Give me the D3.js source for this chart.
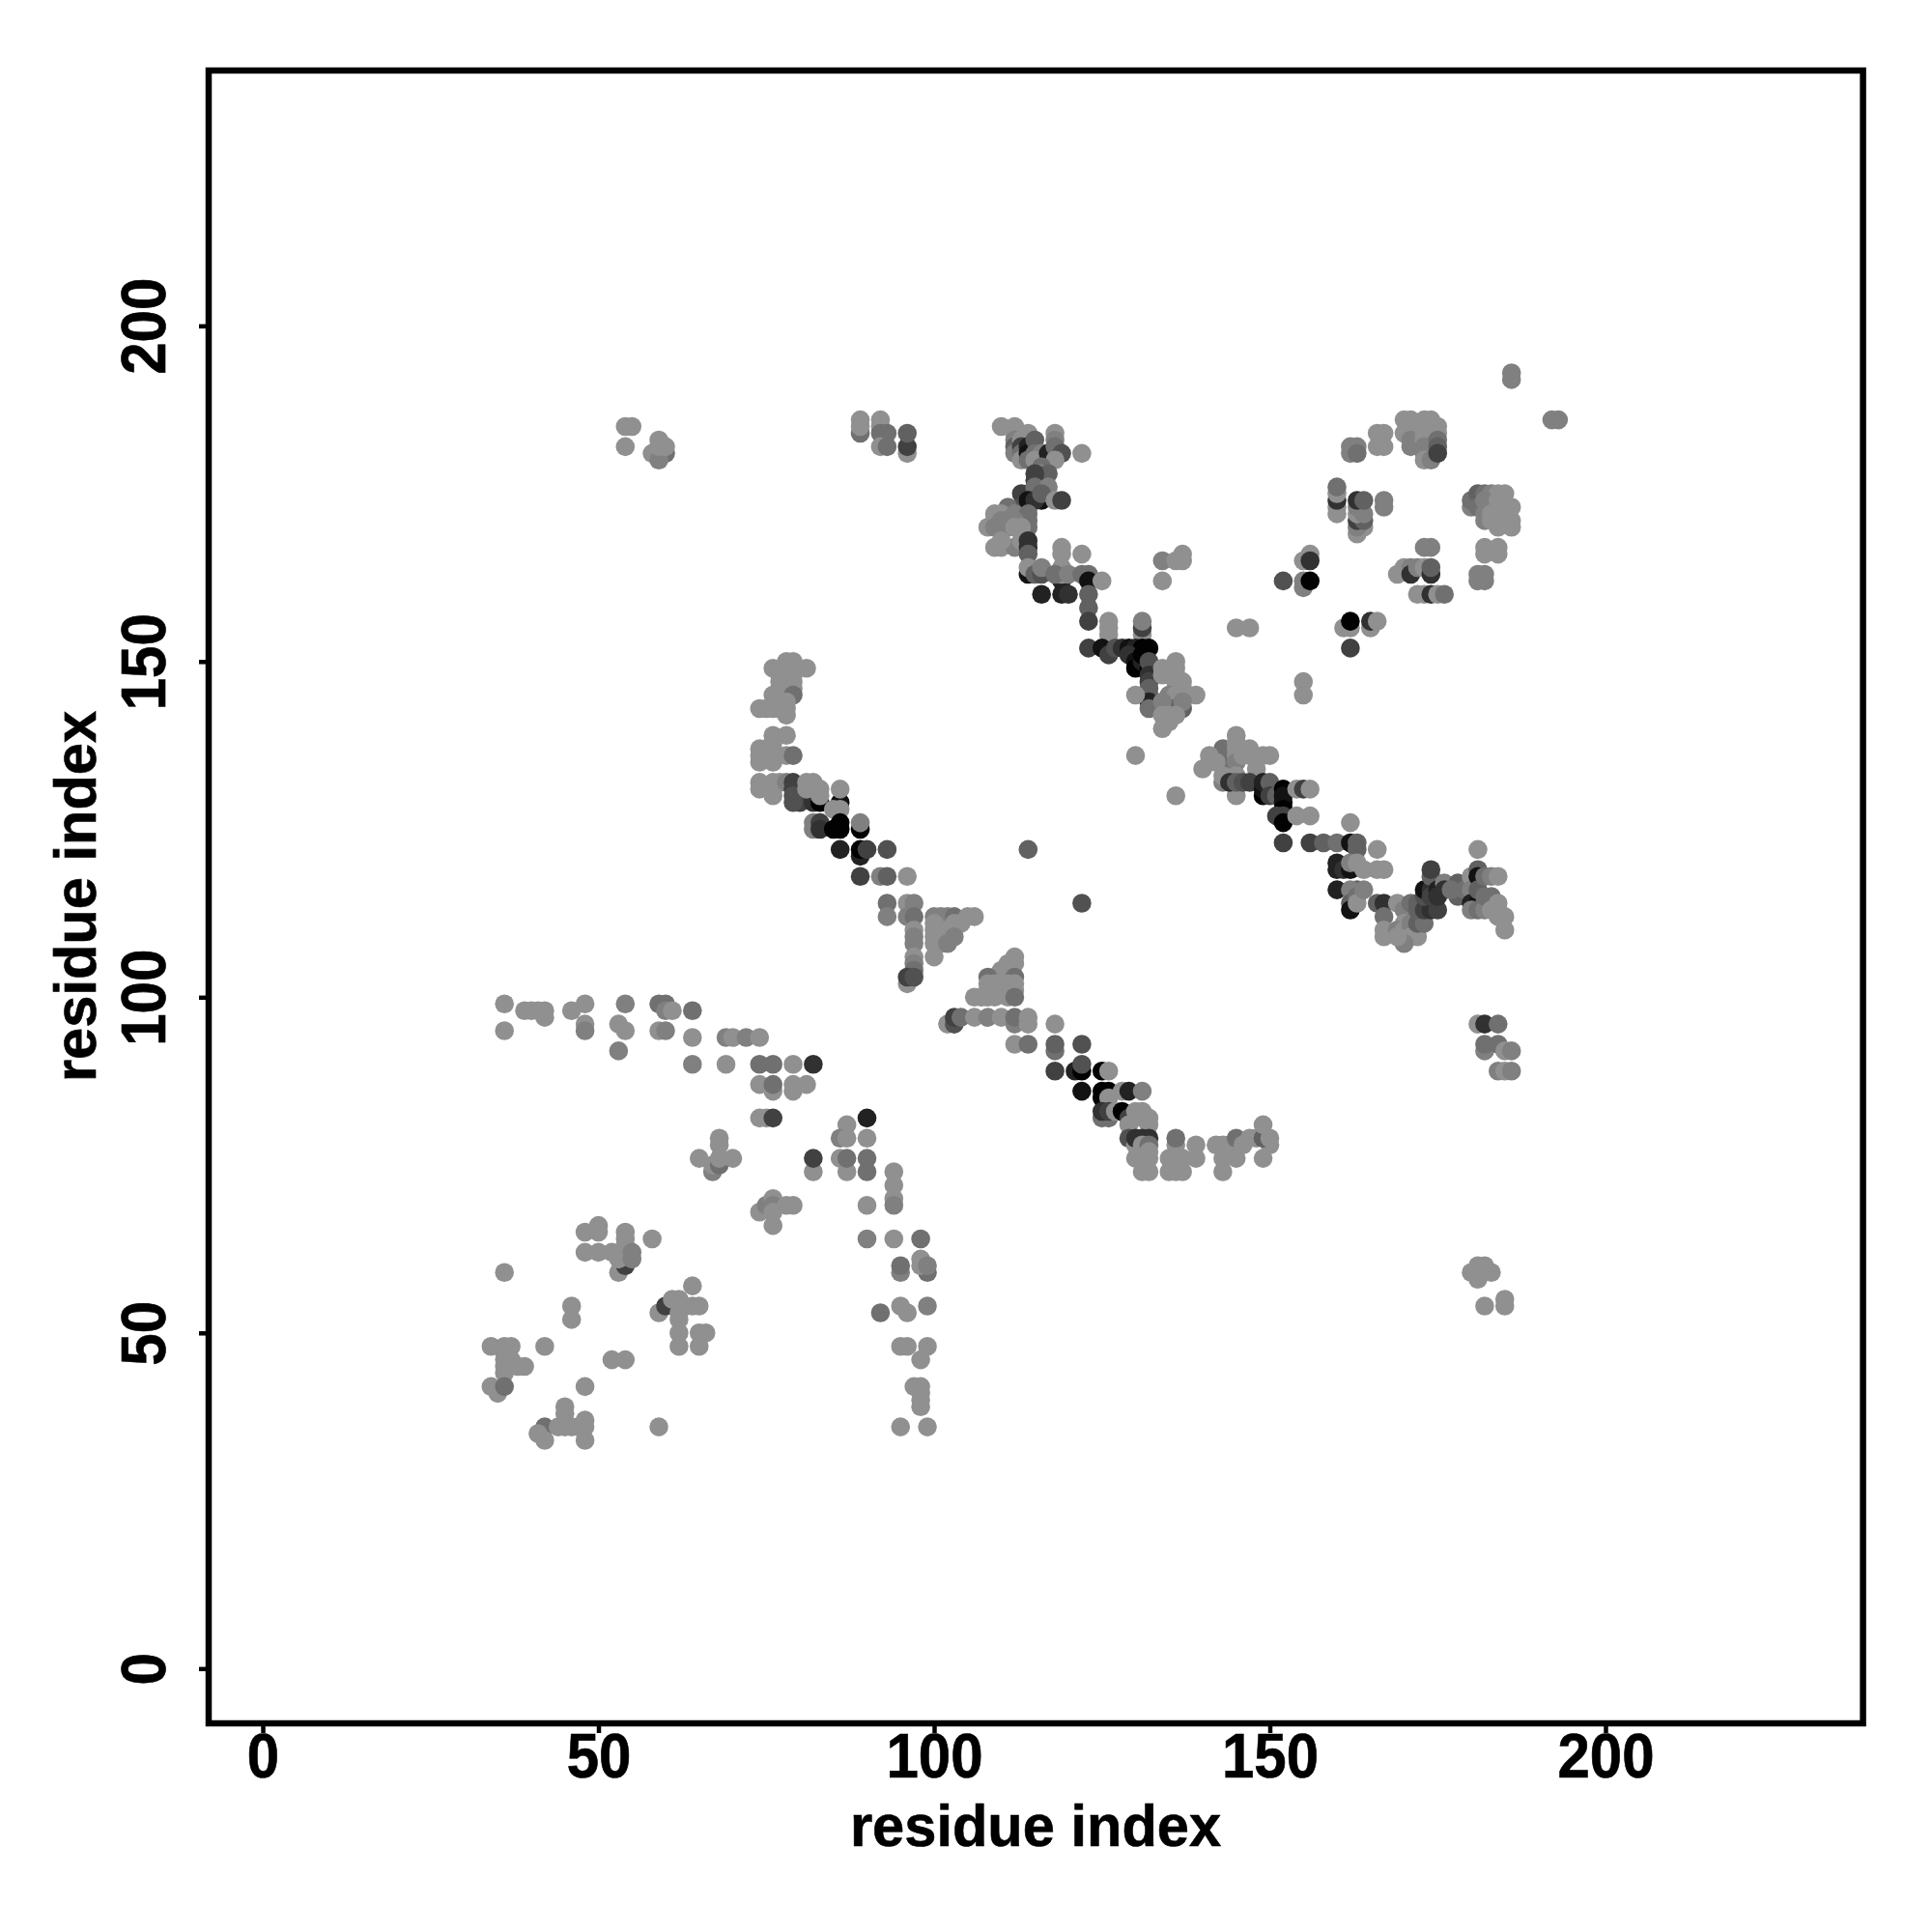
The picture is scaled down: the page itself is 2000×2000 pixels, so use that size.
<!DOCTYPE html>
<html><head><meta charset="utf-8">
<script src="https://cdn.jsdelivr.net/npm/d3@7/dist/d3.min.js"></script>
<style>html,body{margin:0;background:#fff}svg{display:block}text{font-family:"Liberation Sans",Arial,sans-serif;font-weight:700;fill:#000;stroke:#000;stroke-width:.6px}</style>
</head><body><svg id="c" width="2000" height="2000"></svg>
<script>
// each contact: [residue i, residue j, strength 0..9]
const xTickValues=[0,50,100,150,200];
const yTickValues=[0,50,100,150,200];
const xTitle="residue index", yTitle="residue index";
const farContacts=[
[36,99],[36,95],[39,98],[40,98],[41,98],[42,98],[42,97],[46,98],[48,99],[48,96],[48,95,1],[53,96],[54,95],[53,92,1],[54,99,1],
[59,99,2],[60,99,2],[60,98,1],[61,98],[64,98,2],[59,95],[60,95,1],[64,94],[69,94,1],[70,94],[72,94,1],[74,94],[64,90,1],[69,90],[74,90,2],[76,90,2],[79,90],[82,90,6],
[74,87],[76,86],[76,87,2],[79,86],[79,87],[81,87],[74,82],[75,82],[76,82,5],[87,81],[86,79,1],[87,79],[90,82,7],[90,79],
[82,74],[82,76,5],[86,76],[87,74],[87,76,2],[90,74,2],[90,76,2],[94,74],[94,72],[94,70],[94,69,1],[90,69],
[90,64,1],[94,64],[98,64,2],[98,61],[95,59,1],[95,60,2],[99,59,2],[98,60],[99,60,1],[99,54,1],[95,54],[96,53],[92,53,2],[95,48],[96,48],[99,48],[98,46],
[97,42],[98,42],[98,41],[98,40],[98,39],[95,36],[99,36],
[68,79],[68,78],[65,76],[67,74,1],[67,75],[68,75,2],[68,76],[70,76],
[74,68],[75,69,1],[76,70],[76,69,1],[76,68],[78,69],[79,69],[76,66],
[48,65],[50,66],[50,65],[48,62],[50,62],[52,62],[53,59],[54,60,5],[53,61],[54,65],[54,64],[54,63],[54,62],[55,62,1],[55,61,1],[58,64],[36,59],
[64,57],[59,53],[60,54,5],[61,55],[62,55],[62,53],[63,54],[64,54],[65,54],[62,52],[62,50],[62,48],[65,50],[66,50],[65,48],
[46,54],[46,52],[34,48],[36,48],[37,48],[42,48],[36,47],[36,46],[36,45],[36,44],[37,46],[38,45],[39,45],[52,46],[54,46],
[34,42],[35,41],[36,42,2],[48,42],[45,39],[45,38],[42,36,2],[41,35],[42,34],[44,36],[45,36],[46,36],[47,36],[48,36],[48,37],[48,34],[59,36],
[180,59],[181,58],[181,60],[182,60],[183,59],[182,54],[185,55],[185,54],
[54,185],[55,185],[54,182],[60,181,2],[58,181],[59,180,1],[60,182],[59,182],[59,183],
[89,186],[89,184,2],[89,185],[92,186],[92,185],[92,184,2],[93,184,2],[92,182],[93,182,2],[96,181],[96,182,5],[96,184,3]
];
const antiDiagonalLow=[
[76,149],[79,149,3],[78,150],[79,150],[81,149],[77,148],[78,148],[79,148],[77,147],[79,147],[77,146],[79,146],[76,145],[77,145],[79,145,2],[74,143],[75,143],[76,143],[77,143],[78,143],[78,142],[77,144],[78,144],
[76,139],[78,139],[74,137],[74,136],[74,135],[75,137],[76,138],[76,137],[76,136],[76,135],[78,136],[79,136,2],
[74,132],[74,131],[76,132],[76,131],[76,130],[77,132],[78,132,1],[80,129,5],[79,129,4],[79,132,5],[79,131,5],[79,130,4],[81,132],[82,132],[82,129,6],[83,129,9],[81,131],[83,131],[83,130],
[86,129,8],[86,131],[85,128],[86,128],[82,126,1],[82,125,1],[83,126,5],[83,125,6],[85,125,9],[86,126,9],[86,125,9],[89,125,9],[89,126,1],
[86,122,7],[89,121,7],[89,122,9],[90,122,5],[93,122,4],[114,122,3],
[89,118,5],[92,118,1],[93,118,3],[96,118],[122,114,4],[93,114,2],[93,112,1],[96,114],[97,114,1],[96,112,1],[97,112,2],[97,110],[97,109,1],[97,108,1],[97,106],[97,105,1],[97,104,2],[96,102],[96,103,5],[97,103,4],
[100,112,1],[101,112,1],[102,112,1],[103,112,2],[105,112],[106,112],[100,111],[104,111],[103,111],[100,110],[101,110],[102,110],[100,109],[101,109],[102,109],[103,109,1],[100,108],[101,108],[102,108,1],[100,106],
[112,106],[111,105],[112,105],[110,104],[111,104],[112,103,2],[112,102],[109,103],[108,103,2],[108,102],[109,102],[110,102],[111,102],[106,100],[107,100],[108,101],[109,101],[110,101],[111,101],[112,101],[108,100],[109,100],[111,100],[112,100,2],
[102,96],[103,96,4],[103,97,5],[104,97,2],[106,97],[108,97,1],[110,97],[112,96,1],[112,97,2],[114,97],[114,96],[118,96],
[112,93],[114,93,2],[118,92,2],[118,93,3],[122,93,4],[118,89,5],[121,89,7],[122,89,9],[122,90,4],[125,89,9],[126,89],
[122,86,8],[125,86,9],[126,86,9],[125,85,9],[126,85],[128,86],[129,86,7],[131,86,1],
[125,82,2],[126,82,2],[125,83,6],[126,83,5],[127,83],[128,83,9],[129,82,5],[129,81],[130,83],[131,83],[131,82],[132,82],[132,81],
[129,79,4],[130,78],[130,79,6],[131,79,6],[132,79,6],[131,78],[132,78,2],[132,77],[130,76],[131,76],[132,76],[131,74],[132,74],
[136,78],[136,79,2],[135,76],[137,76],[135,74],[136,74],[137,74],[139,78],[139,76],
[142,78],[143,78],[143,76],[143,74],[145,76],[144,78],[145,79,2],[146,78],[147,79],[148,79],[149,76],[150,78],[149,79,3],[150,79],[149,81],
[130,136],[136,130]
];
const antiDiagonalHigh=[
[110,185],[112,185],[114,184],[112,184],[112,183,1],[112,182,3],[112,181,1],[113,183],[113,182,5],[113,181,2],[113,180],[114,182,7],[114,181,8],[114,180,2],[115,183,3],[115,181,2],[116,181,1],[115,180],[117,181,7],[118,184],[118,183,1],[118,182,2],[119,181,4],[122,181],[118,180],[116,179,2],[116,178,1],[117,178,3],[115,178,5],[115,177,5],
[114,173,5],[113,175,5],[114,175,5],[113,173,4],[115,176,2],[117,176,1],[114,174,8],[116,174,8],[115,174,6],[116,175,3],[118,174],[119,174,5],[111,173,2],[111,172,2],[109,172],[110,172],[112,172,1],[114,172,2],[114,171,2],[114,170,2],[108,170],[109,171],[110,171,1],[111,171,1],[112,171,1],[113,170],[109,170,1],[110,170,1],[111,170,1],[112,170],[109,167],[110,167],[112,167,1],[113,168],[110,168],[114,168,6],[114,167,6],[114,166,3],
[114,163,8],[114,164],[115,163,3],[116,163,4],[116,164,1],[119,162,7],[119,167],[119,166],[119,164],[119,163],[118,163,2],[120,163,1],[122,166],[116,160,7],[119,160,7],[120,160,6],[122,163,2],[123,163,2],[123,162,8],[125,162],[123,160,3],[123,158,3],[123,156,5],[123,152,5],
[126,156],[126,155],[126,154],[131,154],[131,155,5],[131,156,1],[125,152,8],[126,151,5],[127,152,4],[128,152,6],[129,152,8],[130,152,7],[131,152,9],[132,152,9],[129,151,6],[130,150,8],[130,149,9],[131,150,7],[131,151,9],[132,149,9],[132,150,4],[132,148,6],[132,147,5],[132,146,3],[132,145,3],[132,144,7],[130,145],[134,149],[136,150],[136,149],[134,148],[137,147],[135,148],[136,148],[136,147],[136,146],[137,146],[139,145],[135,145,1],[135,144,2],[136,145],[132,143,2],[135,143,3],[136,143,3],[137,143,3],[137,144,1],[134,144,1],[134,142],[135,142],[136,142],[135,141],[134,140],
[134,165,1],[136,165],[137,166],[137,165],[134,162],[145,155],[147,155],
[145,139],[143,137,2],[143,136,2],[143,135,2],[141,136],[140,134],[141,135],[142,135],[145,138],[145,137],[145,136],[145,135,1],[146,136],[147,137],[147,136],[149,136],[150,136],[148,134],[143,132,1],[143,133],[145,130],[145,133],[144,132,6],[145,132,3],[146,132,4],[147,132,5],
[149,130,9],[149,131,8],[149,132,7],[150,132,3],[150,130,5],[151,130,3],[152,131,9],[152,130,8],[152,129,8],[152,128,9],[151,127,5],[152,127,5],[152,126,9],[154,131],[155,131,5],[156,131],[154,127],[156,127],
[152,123,5],[156,123,5],[158,123,3],[160,123,2],[162,126],[162,123,8],[163,123,3],[163,122,3],[166,122],[160,120,7],[160,119,7],[161,119,6],[162,119,8],[162,120,1],[163,120],[164,119],[166,119],[167,119],[160,116,7],
[163,116,3],[162,116,1],[162,114,3],[163,115,2],[162,113,8],[163,114],[164,116,1],[166,114,3],[167,114,6],[167,112,2],[167,110],[167,109],
[169,114],[170,113,1],[171,113,1],[170,111],[169,110,1],[170,110],[171,111,1],[171,110,1],[171,109],[172,109],[170,108,1],[169,109],[172,111,3],[173,111,2],[171,114,2],[172,113,3],[172,114,3],[173,113,5],[174,113,6],[175,113,5],[173,115,4],[173,116,8],[174,116,6],[174,115,5],[174,118,3],[174,119,5],[175,116,7],[175,115,6],
[176,117,1],[176,116,6],[178,117,3],[178,115,3],[177,116,2],[179,116,2],[180,118],[181,122],[180,116,1],[180,114,7],[181,114,8],[181,119,3],[181,118,8],[181,116,3],[180,113,1],[181,113,2],[182,113,1],[182,115,2],[183,115,2],[182,118,2],[183,118,1],[184,118],[184,114],[184,113],[185,112],[185,110],[183,113],[184,112],
[181,96],[182,96,6],[184,96,2],[182,92,1],[182,93,2],[184,93,2],[185,92],[186,92,1],[184,89,1],[185,89],[186,89,1]
];
const upperRightContacts=[
[186,193,1],[186,192,1],[192,186,1],[193,186,1],[162,182,1],[163,182,1],[162,181,1],[163,181,2],[166,184],[167,184],[166,182],[167,182],
[170,186],[171,186],[173,186],[170,184],[171,184],[171,183,1],[171,182,1],[173,185],[173,184],[173,183],[173,182,1],[173,181,1],[173,180],[174,180,1],[174,186],[175,185],[175,184],[175,183,2],[175,182,3],[175,181,5],
[160,172],[160,173],[160,174,6],[160,175],[160,176,2],[163,169],[164,170],[163,170,1],[163,171,5],[164,171,3],[163,172],[164,172,1],[163,173,1],[163,174,6],[164,174,3],[167,174,1],[167,173,1],
[180,173,1],[180,174,2],[181,175,3],[182,175,2],[183,175,1],[184,175],[185,175],[181,173,2],[182,174,1],[182,172,1],[182,171,1],[183,172],[183,171],[184,174],[184,172],[184,170],[185,172],[186,173],[186,170],[186,171],
[182,167],[184,167],[182,166],[184,166],[181,163,1],[182,163,1],[181,162,1],[182,162,1],[173,167,1],[174,167,1],
[169,163],[170,164],[171,164,1],[171,163,6],[172,164,1],[173,164],[174,163,6],[174,164,3],[172,160],[173,160],[174,160,6],[175,160],[176,160,2],
[155,165],[156,166],[156,165,6],[152,162,4],[155,161,1],[155,162,1],[156,162,9],[155,147],[155,145],
[161,155],[162,155],[162,156,9],[165,155],[165,156,6],[166,156],[162,152,5]
];
const contacts=[...farContacts,...antiDiagonalLow,...antiDiagonalHigh,...upperRightContacts];

const svg=d3.select("#c");
const x=d3.scaleLinear().domain([0,200]).range([272,1662]);
const y=d3.scaleLinear().domain([0,200]).range([1727.3,337.3]);
const shade=d3.scaleLinear().domain([0,9]).range([144,2]);
const grey=s=>{const g=Math.round(shade(s||0));return `rgb(${g},${g},${g})`;};

svg.append("g").selectAll("circle").data(contacts).join("circle")
 .attr("cx",d=>x(d[0])).attr("cy",d=>y(d[1])).attr("r",9.8).attr("fill",d=>grey(d[2]));

const frame={l:x.invert(216),r:x.invert(1928.6),b:y.invert(1784),t:y.invert(73)};
svg.append("rect").attr("x",x(frame.l)).attr("y",y(frame.t))
 .attr("width",x(frame.r)-x(frame.l)).attr("height",y(frame.b)-y(frame.t))
 .attr("fill","none").attr("stroke","#000").attr("stroke-width",6.5);

const xa=svg.append("g").attr("transform","translate(0,1784)")
 .call(d3.axisBottom(x).tickValues(xTickValues).tickSize(10).tickPadding(0).tickFormat(d3.format("d")));
const ya=svg.append("g").attr("transform","translate(216,0)")
 .call(d3.axisLeft(y).tickValues(yTickValues).tickSize(10).tickPadding(0).tickFormat(d3.format("d")));
[xa,ya].forEach(a=>{a.select(".domain").remove();a.selectAll("line").attr("stroke","#000").attr("stroke-width",4.5);
 a.selectAll("text").attr("font-size",60).attr("font-family",null).style("font-family",'"Liberation Sans"').style("font-weight",700);});
xa.selectAll("text").attr("y",null).attr("dy",null).attr("text-anchor","middle")
 .attr("transform","translate(0,56) scale(1,1.07)");
ya.selectAll("text").attr("x",null).attr("dy",null).attr("text-anchor","middle")
 .attr("transform","translate(-45,0) rotate(-90) scale(1,1.07)");
svg.append("text").attr("transform","translate(1072,1911) scale(1,1.04)").attr("text-anchor","middle").attr("font-size",59.6).text(xTitle);
svg.append("text").attr("transform","translate(99,928) rotate(-90) scale(1,1.04)").attr("text-anchor","middle").attr("font-size",59.6).text(yTitle);
</script></body></html>
